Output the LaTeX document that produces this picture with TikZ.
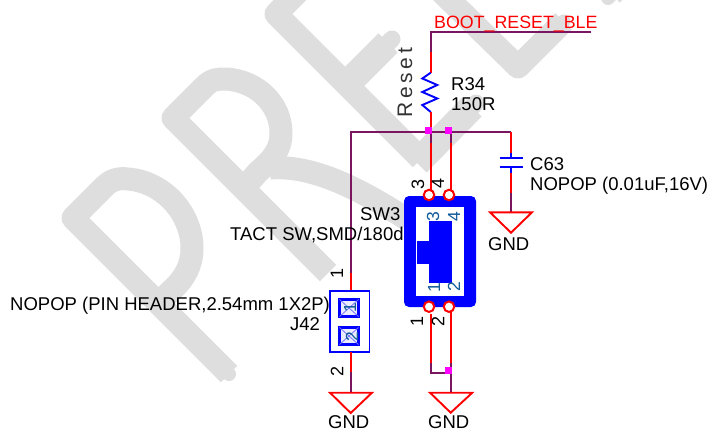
\documentclass[tikz,border=0pt]{standalone}
\usepackage{fontspec}
\setmainfont{Liberation Sans}
\newfontfamily\resetfont[LetterSpace=18]{Liberation Sans}
\definecolor{wm}{HTML}{DEDEDE}
\definecolor{netc}{HTML}{7A1560}
\definecolor{wirec}{HTML}{FF0000}
\definecolor{bodyc}{HTML}{0000FF}
\definecolor{jnc}{HTML}{FF00FF}
\definecolor{pinc}{HTML}{105A9A}
\tikzset{
  wmthin/.style={draw=wm,line width=23pt,line join=round},
  wmarm/.style={draw=wm,line width=27pt},
  wmcap/.style={draw=wm,line width=14pt,line cap=round},
  net/.style={draw=netc,line width=1.9pt},
  wire/.style={draw=wirec,line width=2pt},
  part/.style={draw=bodyc,line width=1.9pt},
  gndsym/.style={draw=wirec,line width=1.9pt,line join=miter},
  lbl/.style={font=\fontsize{18.5}{20}\selectfont,anchor=base west,inner sep=0pt,text=black},
  pinnum/.style={font=\fontsize{18}{20}\selectfont,rotate=90,inner sep=0pt,text=black},
  pinin/.style={font=\fontsize{17.5}{20}\selectfont,rotate=90,inner sep=0pt,text=pinc},
  pincirc/.style={circle,draw=wirec,line width=2pt,fill=white,minimum size=10.5pt,inner sep=0pt},
  junc/.style={fill=jnc,draw=none,minimum size=7pt,inner sep=0pt,rectangle},
  pad/.style={draw=bodyc,line width=2.2pt,fill=bodyc!8},
}
\begin{document}
\begin{tikzpicture}[x=1pt,y=-1pt]
\useasboundingbox (0,0) rectangle (708,431);
\fill[white] (0,0) rectangle (708,431);
% watermark
\begin{scope}
\clip (0,0) rectangle (708,431);
% P
\draw[wmthin] (229,374) -- (73,218) -- (105,186) .. controls (112,179) and (120,178) .. (128,179) .. controls (165,182) and (192,215) .. (192,248) .. controls (192,265) and (185,278) .. (172,290) -- (158,303);
\draw[wmcap] (229,374) -- (226,371);
% R
\draw[wmthin] (328,273) -- (173,118) -- (205,86) .. controls (212,79) and (218,79) .. (226,79) .. controls (258,81) and (281,105) .. (281,133) .. controls (281,150) and (272,160) .. (258,172) -- (250,181);
\draw[wmthin] (270,168) .. controls (310,165) and (354,185) .. (408,220);
% E
\draw[wmthin] (421,159) -- (276,14) -- (320,-30);
\draw[wmarm] (346.5,84.5) -- (388,43);
\draw[wmcap,line width=17pt] (388,43) -- (392,39);
\draw[wmarm] (417,163) -- (472,107);
\draw[wmcap,line width=17pt] (472,107) -- (476,103);
% L
\draw[wmthin] (430,-19) -- (518,67) -- (563.5,21.5);
\draw[wmcap] (563.5,21.5) -- (558,27);
% I
\draw[wmthin] (650,-40) -- (612,-6);
\draw[wmcap] (612,-6) -- (608,-2);
\end{scope}
% named points
\coordinate (topend) at (591,32.3);
\coordinate (topcorner) at (430.7,32.3);
\coordinate (r34top) at (430.7,72.7);
\coordinate (r34bot) at (430.7,112);
\coordinate (busL) at (350.7,132.3);
\coordinate (busR) at (511.3,132.3);
\coordinate (busA) at (430.7,132.3);
\coordinate (busB) at (450.7,132.3);
% switch
\fill[bodyc,rounded corners=5pt] (404,196) rectangle (476,307);
\fill[white] (415.7,207) rectangle (464,296);
\fill[bodyc] (429,221) rectangle (452.3,283);
\fill[bodyc] (416.7,240.7) rectangle (429,264);
\node[pinin] (in3) at (433,217) {3};
\node[pinin] (in4) at (454,217) {4};
\node[pinin] (in1) at (434,288) {1};
\node[pinin] (in2) at (454,287) {2};
% wires
\draw[net] (topend) -- (topcorner) -- (430.7,52);
\draw[wire] (430.7,52) -- (r34top);
\draw[part] (r34top) -- (422.3,78.5) -- (437.3,85) -- (422.3,92) -- (437.3,98.5) -- (422.3,105) -- (r34bot);
\draw[wire] (r34bot) -- (busA);
\draw[net] (busR) -- (busL) -- (350.7,272.5);
\draw[wire] (350.7,272.5) -- (350.7,292);
\draw[wire] (busR) -- (511.3,153);
\draw[part] (511.3,152.5) -- (511.3,158.3);
\draw[part] (499.7,158.3) -- (523,158.3);
\draw[part] (499.7,166.7) -- (523,166.7);
\draw[part] (511.3,166.7) -- (511.3,172.5);
\draw[wire] (511.3,172.5) -- (511.3,192.5);
\draw[net] (511.3,192.5) -- (511.3,212.3);
\draw[net] (busA) -- (430.7,142.5);
\draw[net] (busB) -- (450.7,142.5);
\draw[wire] (430.7,142.5) -- (430.7,190);
\draw[wire] (450.7,142.5) -- (450.7,190);
\draw[wire] (430.7,313.5) -- (430.7,363);
\draw[wire] (450.7,312) -- (450.7,363);
\draw[net] (430.7,363) -- (430.7,372.7) -- (450.7,372.7);
\draw[net] (450.7,363) -- (450.7,392.7);
\node[pincirc] (p3) at (429,195) {};
\node[pincirc] (p4) at (449,195) {};
\node[pincirc] (p1) at (429,306.7) {};
\node[pincirc] (p2) at (449,306.7) {};
% J42
\draw[part,fill=white] (330,291) rectangle (369.5,352);
\draw[wire] (350.7,352) -- (350.7,371.7);
\draw[net] (350.7,371.7) -- (350.7,392.7);
\draw[pad] (339.5,299.5) rectangle (358.5,316.5);
\draw[pad] (339.5,327.5) rectangle (358.5,344.5);
\draw[bodyc!55,line width=.8pt] (339.5,299.5) -- (358.5,316.5) (339.5,316.5) -- (358.5,299.5) (339.5,327.5) -- (358.5,344.5) (339.5,344.5) -- (358.5,327.5);
\node[pinin] (j1) at (350,308) {1};
\node[pinin] (j2) at (352,337) {2};
% GND symbols
\draw[gndsym] (490,212.3) -- (532,212.3) -- (511,232.7) -- cycle;
\draw[gndsym] (330,392.7) -- (372,392.7) -- (350.7,413) -- cycle;
\draw[gndsym] (430,392.7) -- (472.3,392.7) -- (450.7,412.7) -- cycle;
% junctions
\node[junc] (ja) at (428.7,130.7) {};
\node[junc] (jb) at (448.7,130) {};
\node[junc] (jc) at (448.7,370) {};
% pin numbers
\node[pinnum] (n1) at (337,273) {1};
\node[pinnum] (n2) at (337,371) {2};
\node[pinnum] (n3) at (418,184) {3};
\node[pinnum] (n4) at (438,183) {4};
\node[pinnum] (n5) at (417,321) {1};
\node[pinnum] (n6) at (438,321) {2};
% labels
\node[lbl,text=wirec,font=\fontsize{17.8}{20}\selectfont] (net) at (434,28) {BOOT\_RESET\_BLE};
\node[font=\fontsize{21}{24}\selectfont\resetfont,rotate=90,anchor=base west,inner sep=0pt,text=black!80] (rst) at (412,118) {Reset};
\node[lbl] (r34) at (451,90) {R34};
\node[lbl] (r34v) at (451,110) {150R};
\node[lbl] (c63) at (530,170) {C63};
\node[lbl] (c63v) at (530,190) {NOPOP (0.01uF,16V)};
\node[lbl] (g1) at (488,250) {GND};
\node[lbl] (g2) at (328,428.5) {GND};
\node[lbl] (g3) at (428,428.5) {GND};
\node[lbl] (sw) at (360,220) {SW3};
\node[lbl] (swv) at (230,240) {TACT SW,SMD/180d};
\node[lbl] (jv) at (10,310) {NOPOP (PIN HEADER,2.54mm 1X2P)};
\node[lbl] (j) at (290,330) {J42};
\end{tikzpicture}
\end{document}
